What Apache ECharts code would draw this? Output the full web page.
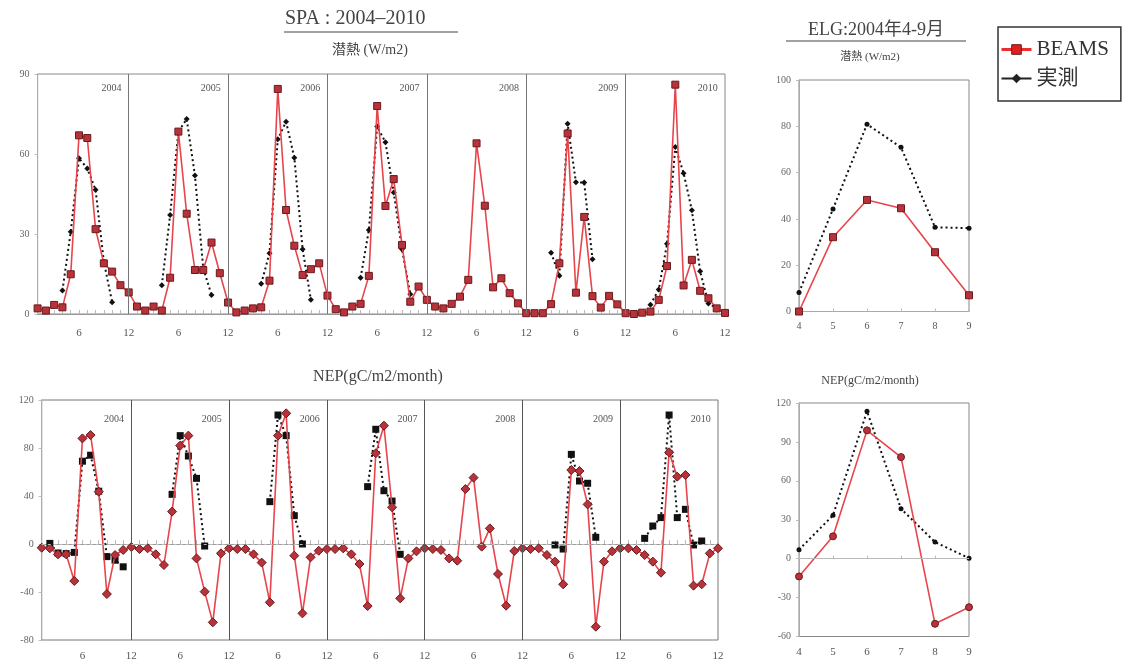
<!DOCTYPE html>
<html><head><meta charset="utf-8">
<script src="https://cdn.jsdelivr.net/npm/echarts@6/dist/echarts.min.js"></script>
<style>html,body{margin:0;padding:0;background:#fff}#c{width:1123px;height:663px}</style>
</head><body><div id="c"></div>
<script>
const years = ['2004','2005','2006','2007','2008','2009','2010'];
// SPA latent heat (W/m2), monthly Jan-Dec for each year
const spaLE_beams = [
  2.1,1.3,3.4,2.5,14.9,67,66,31.8,19,15.9,10.8,8.1,
  2.8,1.3,2.8,1.3,13.6,68.4,37.6,16.5,16.5,26.8,15.3,4.3,
  0.6,1.3,2.1,2.5,12.5,84.4,39,25.6,14.6,16.8,19,6.9,
  1.8,0.6,2.8,3.8,14.3,78,40.5,50.6,25.9,4.6,10.3,5.3,
  2.8,2.1,3.8,6.5,12.8,64,40.6,10,13.4,7.8,4,0.3,
  0.3,0.3,3.7,19,67.7,8,36.4,6.7,2.4,6.8,3.6,0.3,
  0,0.5,0.9,5.3,18,86,10.7,20.3,8.7,5.9,2.1,0.4
];
const spaLE_obs = [
  null,null,null,8.8,30.8,58.4,54.6,46.6,19.6,4.4,null,null,
  null,null,null,10.8,37.1,68.4,73.1,51.9,17.1,7.1,null,null,
  null,null,null,11.3,22.8,65.5,72.1,58.6,24.3,5.3,null,null,
  null,null,null,13.6,31.5,70.3,64.4,45.6,24.3,7.4,null,null,
  null,null,null,null,null,null,null,null,null,null,null,null,
  null,null,23,14.3,71.3,49.4,49.3,20.5,null,null,null,null,
  null,null,3.5,9.2,26.3,62.6,52.8,38.9,16,3.9,2.3,null
];
// SPA NEP (gC/m2/month)
const spaNEP_beams = [
  -3.1,-3.6,-8.6,-8.6,-30.8,88,90.8,43.6,-41.7,-9.2,-5,-2.5,
  -4.2,-3.6,-8.6,-17.5,27,82,90.3,-12,-39.7,-65.3,-7.8,-3.6,
  -4.2,-4.2,-8.6,-15.5,-48.6,90.3,108.9,-9.7,-57.8,-11.1,-5.6,-4.2,
  -4.2,-3.6,-8.6,-16.7,-51.7,75.6,98.6,30.6,-45.3,-12,-6.1,-3.6,
  -4.2,-5,-12,-13.9,45.8,55.3,-2.2,13,-25,-51.4,-5.8,-3.6,
  -4.2,-3.6,-9.2,-14.7,-33.6,61.7,60.8,33,-68.9,-14.7,-6.1,-3.6,
  -3.6,-5,-9.2,-14.7,-23.9,76.4,56.1,57.5,-34.7,-33.6,-7.8,-3.6
];
const spaNEP_obs = [
  null,0.5,-7.5,-8,-7,69,74,44,-10.5,-13.5,-19,null,
  null,null,null,null,41.4,90.3,73.3,54.7,-1.7,null,null,null,
  null,null,null,null,35.3,107.5,90.3,23.6,0,null,null,null,
  null,null,null,null,47.8,95.6,44.4,35.8,-8.6,null,null,null,
  null,null,null,null,null,null,null,null,null,null,null,null,
  null,null,null,-0.8,-4.2,74.7,52.5,50.6,5.6,null,null,null,
  null,null,4.7,15,22,107.5,22,28.9,-0.8,2.5,null,null
];
// ELG 2004 Apr-Sep
const elgMonths = [4,5,6,7,8,9];
const elgLE_beams = [0,32.1,48.2,44.6,25.6,7];
const elgLE_obs = [8.2,44.3,80.9,70.9,36.4,36];
const elgNEP_beams = [-13.7,17.2,98.9,78.3,-50.2,-37.4];
const elgNEP_obs = [6.9,33.4,113.6,38.5,12.8,0.4];

const SERIF = '"Liberation Serif","Noto Sans CJK JP",serif';
const RED_LINE = '#e8444c', RED_FILL = '#b8323a', RED_BORDER = '#6a1a1e';

const pairs = (arr, xs) => arr.map((v, i) => [xs ? xs[i] : i + 1, v]);
const nMonths = spaLE_beams.length;
const yearEnds = years.slice(0, -1).map((y, i) => ({ xAxis: 12 * (i + 1) }));

function monthAxis(gi, margin) {
  return {
    type: 'value', gridIndex: gi, min: 1, max: nMonths, interval: 1,
    axisLine: { show: true, lineStyle: { color: '#999' } },
    axisTick: { show: true, inside: true, length: 4, lineStyle: { color: '#bbb' } },
    splitLine: { show: false },
    axisLabel: {
      margin, fontFamily: SERIF, fontSize: 11, color: '#555',
      formatter: v => (v % 12 === 0 ? '12' : (v % 6 === 0 ? '6' : ''))
    }
  };
}
function valAxis(gi, min, max, interval) {
  return {
    type: 'value', gridIndex: gi, min, max, interval,
    axisLine: { show: true, lineStyle: { color: '#aaa' } },
    axisTick: { show: true, length: 3, lineStyle: { color: '#bbb' } },
    splitLine: { show: false },
    axisLabel: { fontFamily: SERIF, fontSize: 10, color: '#666', margin: 8 }
  };
}
function yearMarks(yv) {
  return {
    symbol: 'circle', symbolSize: 0, silent: true,
    label: { show: true, position: 'left', distance: 4, fontFamily: SERIF, fontSize: 10, color: '#555',
      formatter: p => p.name },
    data: years.map((y, i) => ({ name: y, coord: [12 * (i + 1) - 0.4, yv] }))
  };
}
function dividers(color) {
  return {
    symbol: ['none', 'none'], silent: true, label: { show: false },
    lineStyle: { color, type: 'solid', width: 1 },
    data: yearEnds
  };
}

const obsLine = { color: '#111', width: 2, type: [2, 3] };
const redLine = { color: RED_LINE, width: 1.6 };
const redItem = { color: RED_FILL, borderColor: RED_BORDER, borderWidth: 1 };

const option = {
  animation: false,
  backgroundColor: '#fff',
  textStyle: { fontFamily: SERIF },
  legend: {
    left: 998, top: 27, orient: 'vertical', itemWidth: 30, itemHeight: 12, itemGap: 8,
    padding: [12, 12, 12, 2], borderColor: '#333', borderWidth: 1.5,
    textStyle: { fontFamily: SERIF, fontSize: 21, color: '#333' },
    data: [
      { name: 'BEAMS', lineStyle: { color: '#e83030', width: 3, type: 'solid' }, itemStyle: { color: '#e02020', borderColor: '#6a1a1e', borderWidth: 1 } },
      { name: '実測', lineStyle: { color: '#222', width: 2, type: 'solid' }, itemStyle: { color: '#222' } }
    ]
  },
  graphic: [
    { type: 'text', left: 285, top: 9, style: { text: 'SPA : 2004–2010', font: '20px ' + SERIF, fill: '#444' } },
    { type: 'line', shape: { x1: 284, y1: 32, x2: 458, y2: 32 }, style: { stroke: '#444', lineWidth: 1 } },
    { type: 'text', x: 370, y: 50, style: { text: '潜熱 (W/m2)', font: '14px ' + SERIF, fill: '#444', align: 'center', verticalAlign: 'middle' } },
    { type: 'text', x: 378, y: 377, style: { text: 'NEP(gC/m2/month)', font: '16px ' + SERIF, fill: '#444', align: 'center', verticalAlign: 'middle' } },
    { type: 'text', x: 876, y: 30, style: { text: 'ELG:2004年4-9月', font: '18px ' + SERIF, fill: '#444', align: 'center', verticalAlign: 'middle' } },
    { type: 'line', shape: { x1: 786, y1: 41, x2: 966, y2: 41 }, style: { stroke: '#444', lineWidth: 1 } },
    { type: 'text', x: 870, y: 57, style: { text: '潜熱 (W/m2)', font: '11px ' + SERIF, fill: '#444', align: 'center', verticalAlign: 'middle' } },
    { type: 'text', x: 870, y: 381, style: { text: 'NEP(gC/m2/month)', font: '12px ' + SERIF, fill: '#444', align: 'center', verticalAlign: 'middle' } }
  ],
  grid: [
    { left: 37.6, right: 398, top: 74, height: 240, show: true, borderColor: '#888', borderWidth: 1 },
    { left: 41.7, right: 405, top: 400, height: 240, show: true, borderColor: '#777', borderWidth: 1 },
    { left: 799, width: 170, top: 80, height: 231.5, show: true, borderColor: '#888', borderWidth: 1 },
    { left: 799, width: 170, top: 403, height: 233.5, show: true, borderColor: '#888', borderWidth: 1 }
  ],
  xAxis: [
    monthAxis(0, 14),
    monthAxis(1, 11),
    Object.assign(valAxis(2, 4, 9, 1), { axisTick: { show: true, inside: true, length: 3, lineStyle: { color: '#bbb' } }, axisLabel: { fontFamily: SERIF, fontSize: 10, color: '#555', margin: 10 } }),
    Object.assign(valAxis(3, 4, 9, 1), { axisTick: { show: true, inside: true, length: 3, lineStyle: { color: '#bbb' } }, axisLabel: { fontFamily: SERIF, fontSize: 11, color: '#555', margin: 10 } })
  ],
  yAxis: [
    valAxis(0, 0, 90, 30),
    valAxis(1, -80, 120, 40),
    valAxis(2, 0, 100, 20),
    valAxis(3, -60, 120, 30)
  ],
  series: [
    { name: '実測', type: 'line', xAxisIndex: 0, yAxisIndex: 0, data: pairs(spaLE_obs),
      symbol: 'diamond', symbolSize: 6, lineStyle: obsLine, itemStyle: { color: '#111' }, connectNulls: false, z: 3,
      markLine: dividers('#777'), markPoint: yearMarks(84.5) },
    { name: 'BEAMS', type: 'line', xAxisIndex: 0, yAxisIndex: 0, data: pairs(spaLE_beams),
      symbol: 'rect', symbolSize: 7, lineStyle: redLine, itemStyle: redItem, z: 4 },
    { name: '実測', type: 'line', xAxisIndex: 1, yAxisIndex: 1, data: pairs(spaNEP_obs),
      symbol: 'rect', symbolSize: 7, lineStyle: obsLine, itemStyle: { color: '#111' }, connectNulls: false, z: 3,
      markLine: {
        symbol: ['none', 'none'], silent: true, label: { show: false },
        data: yearEnds.map(d => Object.assign({ lineStyle: { color: '#555', type: 'solid', width: 1 } }, d))
          .concat([{ yAxis: 0, lineStyle: { color: '#bbb', type: [3, 3], width: 1 } }])
      },
      markPoint: yearMarks(104) },
    { name: 'BEAMS', type: 'line', xAxisIndex: 1, yAxisIndex: 1, data: pairs(spaNEP_beams),
      symbol: 'diamond', symbolSize: 9, lineStyle: redLine, itemStyle: redItem, z: 4 },
    { name: '実測', type: 'line', xAxisIndex: 2, yAxisIndex: 2, data: pairs(elgLE_obs, elgMonths),
      symbol: 'circle', symbolSize: 5, lineStyle: obsLine, itemStyle: { color: '#111' }, z: 3 },
    { name: 'BEAMS', type: 'line', xAxisIndex: 2, yAxisIndex: 2, data: pairs(elgLE_beams, elgMonths),
      symbol: 'rect', symbolSize: 7, lineStyle: redLine, itemStyle: redItem, z: 4 },
    { name: '実測', type: 'line', xAxisIndex: 3, yAxisIndex: 3, data: pairs(elgNEP_obs, elgMonths),
      symbol: 'circle', symbolSize: 5, lineStyle: obsLine, itemStyle: { color: '#111' }, z: 3,
      markLine: { symbol: ['none', 'none'], silent: true, label: { show: false },
        data: [{ yAxis: 0, lineStyle: { color: '#bbb', type: 'solid', width: 1 } }] } },
    { name: 'BEAMS', type: 'line', xAxisIndex: 3, yAxisIndex: 3, data: pairs(elgNEP_beams, elgMonths),
      symbol: 'circle', symbolSize: 7, lineStyle: redLine, itemStyle: redItem, z: 4 }
  ]
};
const chart = echarts.init(document.getElementById('c'), null, { renderer: 'canvas' });
chart.setOption(option);
</script></body></html>
